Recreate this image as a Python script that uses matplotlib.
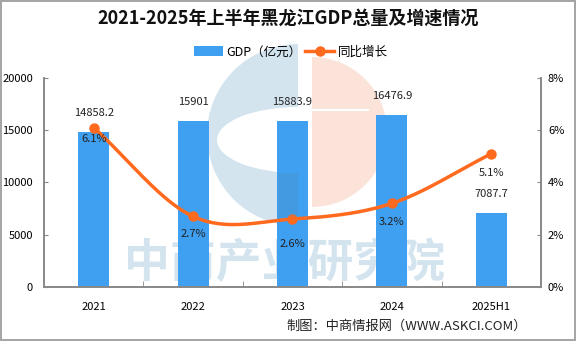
import numpy as np
import matplotlib.pyplot as plt
from matplotlib.patches import Wedge, Ellipse, Rectangle

plt.rcParams['font.family'] = ['Noto Sans CJK SC', 'DejaVu Sans']

years = ['2021', '2022', '2023', '2024', '2025H1']
gdp = [14858.2, 15901, 15883.9, 16476.9, 7087.7]
gdp_labels = ['14858.2', '15901', '15883.9', '16476.9', '7087.7']
growth = [6.1, 2.7, 2.6, 3.2, 5.1]
pct_offsets = [-11, -18, -25, -19, -19]  # 标签下移像素

bar_color = '#3f9ff0'
line_color = '#ff6a1f'


def smooth(xs, ys, n=40):
    # Catmull-Rom 平滑曲线
    xs = np.asarray(xs, float)
    ys = np.asarray(ys, float)
    px = np.concatenate([[2 * xs[0] - xs[1]], xs, [2 * xs[-1] - xs[-2]]])
    py = np.concatenate([[2 * ys[0] - ys[1]], ys, [2 * ys[-1] - ys[-2]]])
    outx, outy = [], []
    for i in range(1, len(px) - 2):
        t = np.linspace(0, 1, n)
        for p, out in ((px, outx), (py, outy)):
            p0, p1, p2, p3 = p[i - 1], p[i], p[i + 1], p[i + 2]
            out.extend(0.5 * (2 * p1 + (-p0 + p2) * t + (2 * p0 - 5 * p1 + 4 * p2 - p3) * t ** 2
                              + (-p0 + 3 * p1 - 3 * p2 + p3) * t ** 3))
    return outx, outy


fig = plt.figure(figsize=(5.76, 3.41), dpi=100, edgecolor='#a6a6a6', linewidth=1.5)

# 水印（底层）
wm = fig.add_axes([0, 0, 1, 1])
wm.set_xlim(0, 576)
wm.set_ylim(341, 0)
wm.axis('off')
wm.set_zorder(0)
wm.add_patch(Wedge((298, 135), 91, 90, 270, color='#d3e4ef', lw=0))
wm.add_patch(Ellipse((298, 140), 162, 66, color='white', lw=0))
wm.add_patch(Rectangle((278, 173), 20, 44, color='#d3e4ef', lw=0))
wm.add_patch(Wedge((312, 132), 75, -90, 90, color='#fbe3d9', lw=0))
wm.plot([312, 368], [110, 110], color='white', lw=1.5)
wm.text(285, 264, '中商产业研究院', fontsize=33, fontweight='bold', color='#d3e4ef',
        ha='center', va='center')

ax = fig.add_axes([0.0764, 0.1584, 0.8628, 0.6129])
ax.set_zorder(1)
ax.patch.set_visible(False)
ax2 = ax.twinx()
ax2.set_zorder(2)
ax2.patch.set_visible(False)

x = np.arange(len(years))
bars = ax.bar(x, gdp, width=0.31, color=bar_color, zorder=2, label='GDP（亿元）')
for xi, v, s in zip(x, gdp, gdp_labels):
    ax.annotate(s, (xi, v), xytext=(0, 10), textcoords='offset points',
                ha='center', va='bottom', fontsize=8, color='#222222')

sx, sy = smooth(x, growth)
ax2.plot(sx, sy, color=line_color, linewidth=2.5, zorder=3)
ax2.plot(x, growth, 'o', color=line_color, markersize=6.5, zorder=4)
for xi, v, off in zip(x, growth, pct_offsets):
    ax2.annotate(f'{v}%', (xi, v), xytext=(0, off * 0.72), textcoords='offset points',
                 ha='center', va='center', fontsize=8, color='#222222')

ax.set_xlim(-0.5, len(years) - 0.5)
ax.set_ylim(0, 20000)
ax.set_yticks([0, 5000, 10000, 15000, 20000])
ax2.set_ylim(0, 8)
ax2.set_yticks([0, 2, 4, 6, 8])
ax2.set_yticklabels([f'{t}%' for t in [0, 2, 4, 6, 8]])
ax.set_xticks(x)
ax.set_xticklabels(years)
ax.set_xticks(np.arange(0.5, len(years) - 1, 1), minor=True)
ax.tick_params(axis='x', which='major', length=0, pad=11, labelsize=8)
ax.tick_params(axis='x', which='minor', direction='in', length=4, color='#888888')
ax.tick_params(axis='y', direction='in', length=3, color='#888888', labelsize=8, pad=8)
ax2.tick_params(axis='y', direction='in', length=3, color='#888888', labelsize=8, pad=5)

for a in (ax, ax2):
    a.spines['top'].set_visible(False)
    for s in ('left', 'right', 'bottom'):
        a.spines[s].set_color('#888888')
        a.spines[s].set_linewidth(1.2)

# 水印与柱子重叠处略深
over = fig.add_axes([0, 0, 1, 1])
over.set_xlim(0, 576)
over.set_ylim(341, 0)
over.axis('off')
over.set_zorder(3)
over.add_patch(Rectangle((278, 173), 20, 44, color='#5f86a0', alpha=0.18, lw=0))

fig.text(0.5, 0.947, '2021-2025年上半年黑龙江GDP总量及增速情况', ha='center', va='center',
         fontsize=13, fontweight='bold', color='#111111')

# 图例
lg_line, = ax.plot([], [], color=line_color, linewidth=2.5, marker='o', markersize=6.5, label='同比增长')
fig.legend(handles=[bars, lg_line], loc='center', bbox_to_anchor=(0.505, 0.848), ncol=2,
           frameon=False, fontsize=9, handlelength=2.3, handleheight=0.8,
           columnspacing=0.3, handletextpad=0.3)

fig.text(0.915, 0.043, '制图：中商情报网（WWW.ASKCI.COM）', ha='right', va='center',
         fontsize=9.5, color='#222222')

fig.savefig('out.png', dpi=100)
